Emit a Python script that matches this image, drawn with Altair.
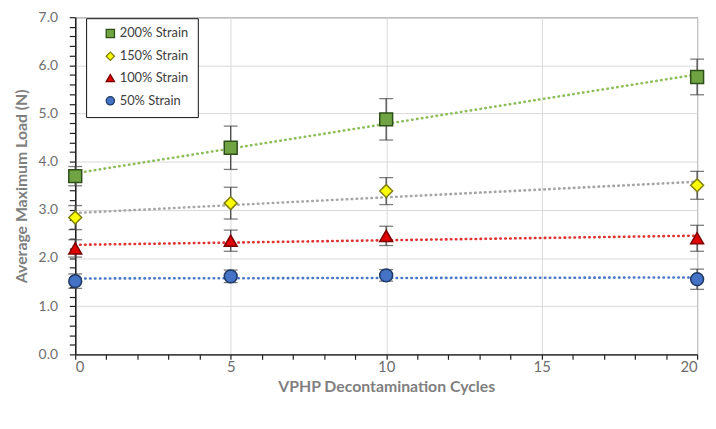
import altair as alt
import pandas as pd

cycles = [0, 5, 10, 20]
series_names = ["200% Strain", "150% Strain", "100% Strain", "50% Strain"]

mean_200 = [3.70, 4.29, 4.88, 5.76]
mean_150 = [2.84, 3.14, 3.39, 3.51]
mean_100 = [2.20, 2.36, 2.46, 2.41]
mean_50 = [1.52, 1.62, 1.64, 1.56]

err_200 = [0.20, 0.45, 0.43, 0.37]
err_150 = [0.25, 0.33, 0.28, 0.29]
err_100 = [0.18, 0.22, 0.20, 0.27]
err_50 = [0.15, 0.13, 0.12, 0.21]

y_ticks = [round(i * 0.2, 1) for i in range(36)]
x_ticks = list(range(21))

means = [mean_200, mean_150, mean_100, mean_50]
errs = [err_200, err_150, err_100, err_50]

rows = []
for name, ms, es in zip(series_names, means, errs):
    for c, m, e in zip(cycles, ms, es):
        rows.append({"cycles": c, "load": m, "lo": m - e, "hi": m + e, "series": name})
df = pd.DataFrame(rows)

fill_range = ["#70A442", "#FFFF00", "#E00000", "#4472C4"]
stroke_range = ["#2E4F1A", "#7F7F10", "#7A0000", "#1F3864"]
shape_range = ["square", "diamond", "triangle-up", "circle"]
trend_range = ["#8DBE5A", "#A6A6A6", "#E03030", "#4A78C8"]

FONT = "Lato"
LABEL_COLOR = "#6E6E6E"
TITLE_COLOR = "#7F7F7F"

x_axis = alt.Axis(
    values=x_ticks,
    labelExpr="datum.value % 5 === 0 ? datum.label : ''",
    gridOpacity={"condition": {"test": "datum.value % 5 === 0", "value": 1}, "value": 0},
    gridColor="#D9D9D9",
    domainColor="#222222",
    domainWidth=1.5,
    tickColor="#222222",
    tickSize=5,
    tickWidth=1.2,
    labelPadding=0,
    labelFontSize=15,
    labelColor=LABEL_COLOR,
    labelFont=FONT,
    titleFont=FONT,
    titleFontSize=16,
    titleFontWeight="bold",
    titleColor=TITLE_COLOR,
    titlePadding=5,
)
y_axis = alt.Axis(
    values=y_ticks,
    labelExpr="abs(datum.value - round(datum.value)) < 0.001 ? format(datum.value, '.1f') : ''",
    gridOpacity={"condition": {"test": "abs(datum.value - round(datum.value)) < 0.001", "value": 1}, "value": 0},
    gridColor="#D9D9D9",
    domainColor="#222222",
    domainWidth=1.5,
    tickColor="#222222",
    tickSize=6,
    tickWidth=1.2,
    labelPadding=12,
    labelFontSize=14,
    labelColor=LABEL_COLOR,
    labelFont=FONT,
    titleFont=FONT,
    titleFontSize=16,
    titleFontWeight="bold",
    titleColor=TITLE_COLOR,
    titlePadding=9,
)

xs = alt.Scale(domain=[0, 20], nice=False)
ys = alt.Scale(domain=[0, 7], nice=False)
X_TITLE = "VPHP Decontamination Cycles"
Y_TITLE = "Average Maximum Load (N)"


def xenc():
    return alt.X("cycles:Q", scale=xs, axis=x_axis, title=X_TITLE)


def yenc(field):
    return alt.Y(f"{field}:Q", scale=ys, axis=y_axis, title=Y_TITLE)


legend = alt.Legend(
    orient="none",
    legendX=11,
    legendY=1,
    strokeColor="#111111",
    fillColor="white",
    padding=9,
    symbolOffset=9,
    labelFont=FONT,
    labelFontSize=13,
    labelColor="#404040",
    symbolSize=70,
    symbolStrokeWidth=1.3,
    rowPadding=8,
    labelOffset=3,
)

base = alt.Chart(df)

trends = []
for name, tcol in zip(series_names, trend_range):
    trends.append(
        base.transform_filter(alt.datum.series == name)
        .transform_regression("cycles", "load", extent=[0, 20])
        .mark_line(color=tcol, strokeDash=[0.5, 4.5], strokeCap="round", strokeWidth=2.6)
        .encode(x=xenc(), y=yenc("load"))
    )

err_rule = base.mark_rule(color="#444444", strokeWidth=1.3).encode(
    x=xenc(), y=yenc("lo"), y2="hi:Q"
)
cap_lo = base.mark_tick(orient="horizontal", color="#444444", size=14, thickness=1.3).encode(
    x=xenc(), y=yenc("lo")
)
cap_hi = base.mark_tick(orient="horizontal", color="#444444", size=14, thickness=1.3).encode(
    x=xenc(), y=yenc("hi")
)

points = base.mark_point(filled=True, opacity=1, size=170, strokeWidth=1.5, strokeOpacity=1).encode(
    x=xenc(),
    y=yenc("load"),
    fill=alt.Fill("series:N", scale=alt.Scale(domain=series_names, range=fill_range), legend=legend, title=""),
    stroke=alt.Stroke("series:N", scale=alt.Scale(domain=series_names, range=stroke_range), legend=legend, title=""),
    shape=alt.Shape("series:N", scale=alt.Scale(domain=series_names, range=shape_range), legend=legend, title=""),
)

chart = (
    alt.layer(*trends, err_rule, cap_lo, cap_hi, points)
    .properties(
        width=629,
        height=341,
        autosize=alt.AutoSizeParams(type="none"),
        padding={"left": 68, "top": 7, "right": 11, "bottom": 60},
    )
    .configure_view(stroke="#333333", strokeWidth=1)
)

chart.save("out.html", embed_options={"renderer": "svg", "actions": False})
